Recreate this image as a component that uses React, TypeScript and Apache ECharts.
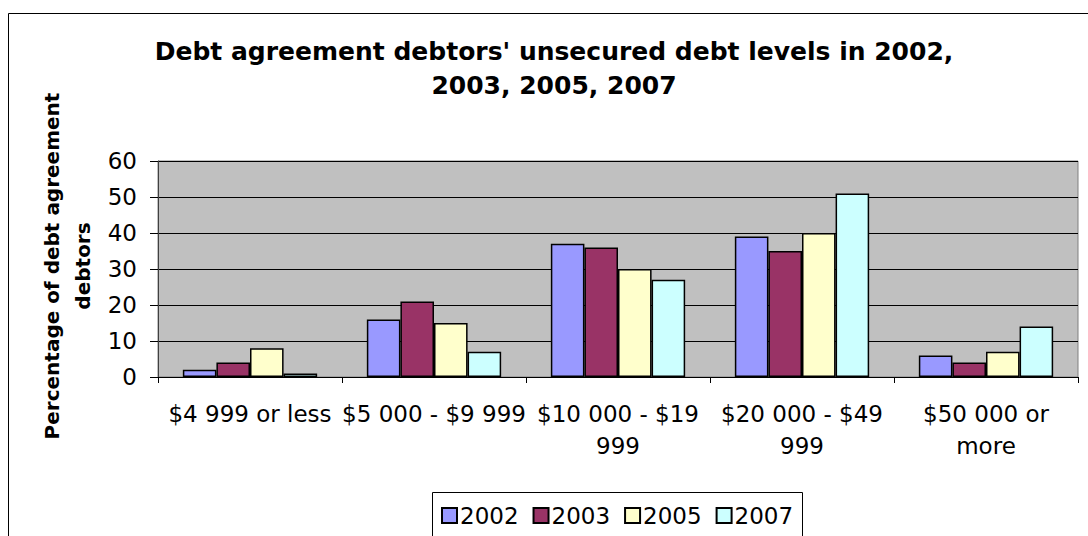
import React, { useEffect, useRef } from "react";
import * as echarts from "echarts";

const categories = [
  "$4 999 or less",
  "$5 000 - $9 999",
  "$10 000 - $19\n999",
  "$20 000 - $49\n999",
  "$50 000 or\nmore",
];
const seriesNames = ["2002", "2003", "2005", "2007"];
const values2002 = [2, 16, 37, 39, 6];
const values2003 = [4, 21, 36, 35, 4];
const values2005 = [8, 15, 30, 40, 7];
const values2007 = [1, 7, 27, 51, 14];
const seriesColors = ["#9999FF", "#993366", "#FFFFCC", "#CCFFFF"];
const yTicks = { min: 0, max: 60, interval: 10 };

const titleText = "Debt agreement debtors' unsecured debt levels in 2002,\n2003, 2005, 2007";
const yAxisTitle = "Percentage of debt agreement\ndebtors";

const FONT = "DejaVu Sans";

export default function App() {
  const ref = useRef<HTMLDivElement>(null);
  useEffect(() => {
    if (!ref.current) return;
    const chart = echarts.init(ref.current, null, { renderer: "svg" });
    const allValues = [values2002, values2003, values2005, values2007];
    chart.setOption({
      animation: false,
      backgroundColor: "#FFFFFF",
      textStyle: { fontFamily: FONT },
      title: {
        text: titleText,
        left: 554,
        textAlign: "center",
        top: 34,
        padding: 0,
        textStyle: {
          fontFamily: FONT,
          fontWeight: "bold",
          fontSize: 25,
          lineHeight: 34,
          color: "#000",
        },
      },
      legend: {
        data: seriesNames,
        left: 441,
        top: 504,
        padding: 0,
        itemWidth: 15,
        itemHeight: 15,
        itemGap: 14,
        icon: "rect",
        textStyle: { fontFamily: FONT, fontSize: 23, color: "#000", padding: [0, 0, 0, -2] },
      },
      grid: {
        left: 158,
        right: 10,
        top: 161,
        bottom: 159,
        show: true,
        backgroundColor: "#C0C0C0",
        borderColor: "#808080",
        borderWidth: 1,
      },
      xAxis: {
        type: "category",
        data: categories,
        axisLine: { show: true, lineStyle: { color: "#000", width: 1 } },
        axisTick: { show: true, length: 6, lineStyle: { color: "#000" } },
        axisLabel: {
          fontFamily: FONT,
          fontSize: 23,
          color: "#000",
          lineHeight: 32,
          margin: 21,
          interval: 0,
        },
        splitLine: { show: false },
      },
      yAxis: {
        type: "value",
        min: yTicks.min,
        max: yTicks.max,
        interval: yTicks.interval,
        axisLine: { show: true, lineStyle: { color: "#404040", width: 1 } },
        axisTick: { show: true, length: 8, lineStyle: { color: "#000" } },
        axisLabel: { fontFamily: FONT, fontSize: 23, color: "#000", margin: 21 },
        splitLine: { show: true, lineStyle: { color: "#000", width: 1 } },
      },
      graphic: [
        {
          type: "rect",
          shape: { x: 8.5, y: 13.5, width: 1100, height: 600 },
          style: { fill: "none", stroke: "#000", lineWidth: 1 },
          silent: true,
          z: -10,
        },
        {
          type: "rect",
          shape: { x: 432.5, y: 492.5, width: 370, height: 100 },
          style: { fill: "#fff", stroke: "#000", lineWidth: 1 },
          silent: true,
          z: -5,
        },
        {
          type: "text",
          x: 67,
          y: 266,
          rotation: Math.PI / 2,
          style: {
            text: yAxisTitle,
            fontFamily: FONT,
            fontWeight: "bold",
            fontSize: 20,
            lineHeight: 31,
            fill: "#000",
            align: "center",
            verticalAlign: "middle",
          },
        },
      ],
      series: allValues.map((vals, i) => ({
        name: seriesNames[i],
        type: "bar",
        data: vals,
        barGap: "0%",
        barCategoryGap: "27%",
        itemStyle: {
          color: seriesColors[i],
          borderColor: "#000",
          borderWidth: 1.5,
        },
      })),
    });
    return () => chart.dispose();
  }, []);
  return (
    <div
      ref={ref}
      style={{ position: "fixed", left: 0, top: 0, width: 1088, height: 536 }}
    />
  );
}
